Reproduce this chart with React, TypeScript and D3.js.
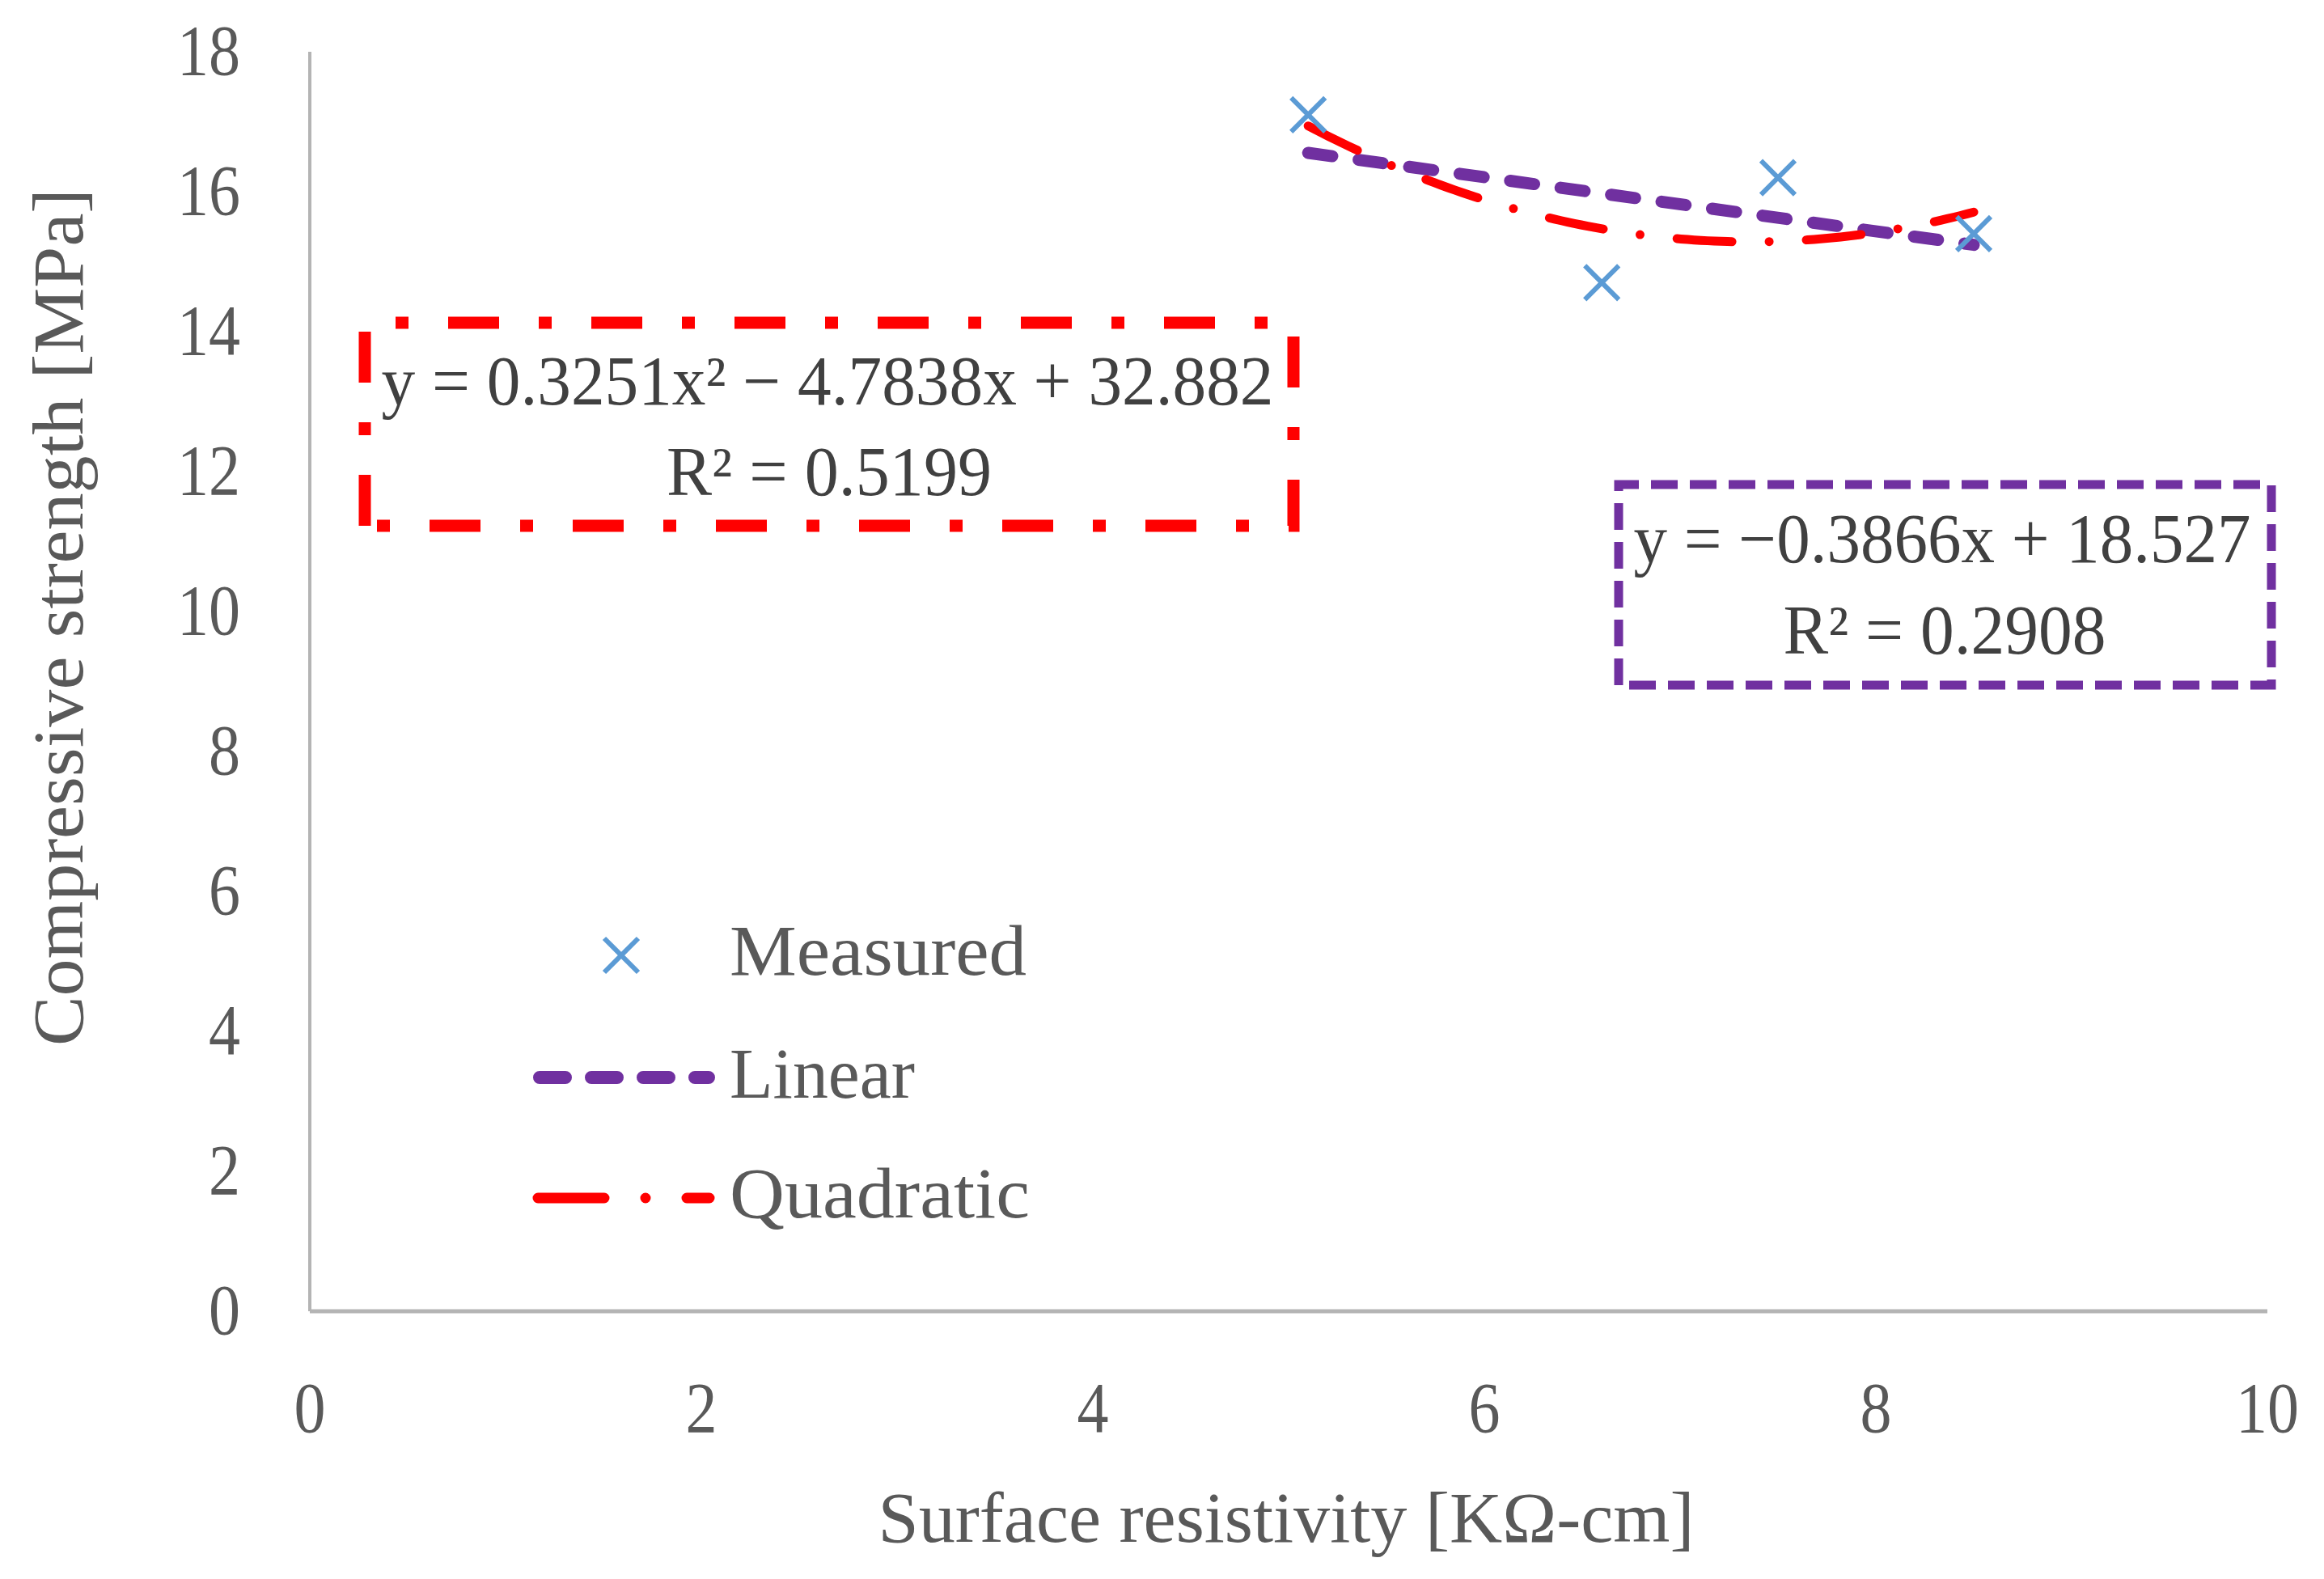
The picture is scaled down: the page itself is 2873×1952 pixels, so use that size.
import React from "react";
import * as d3 from "d3";

// ---- data ----
const resistivity = [5.1, 6.6, 7.5, 8.5];
const strength = [17.1, 14.7, 16.2, 15.4];
const xTicks = [0, 2, 4, 6, 8, 10];
const yTicks = [0, 2, 4, 6, 8, 10, 12, 14, 16, 18];
const linearCoef = [18.527, -0.3866]; // intercept, slope
const quadCoef = [32.882, -4.7838, 0.3251]; // c0, c1, c2
const linearLabel = ["y = −0.3866x + 18.527", "R² = 0.2908"];
const quadLabel = ["y = 0.3251x² − 4.7838x + 32.882", "R² = 0.5199"];
const legendLabels = ["Measured", "Linear", "Quadratic"];
const xTitle = "Surface resistivity [KΩ-cm]";
const yTitle = "Compressive strength [MPa]";

const W = 2873;
const H = 1952;
const FONT = "'Liberation Serif', 'DejaVu Serif', serif";
const TICK_COLOR = "#595959";
const EQ_COLOR = "#404040";
const BLUE = "#5B9BD5";
const PURPLE = "#7030A0";
const RED = "#FF0000";

export default function App() {
  const x = d3.scaleLinear().domain([0, 10]).range([383, 2803]);
  const y = d3.scaleLinear().domain([0, 18]).range([1621, 64]);

  const [xmin, xmax] = d3.extent(resistivity) as [number, number];
  const lin = (v: number) => linearCoef[0] + linearCoef[1] * v;
  const quad = (v: number) => quadCoef[0] + quadCoef[1] * v + quadCoef[2] * v * v;
  const samples = d3.range(0, 101).map((i) => xmin + ((xmax - xmin) * i) / 100);

  const lineGen = d3
    .line<[number, number]>()
    .x((d) => x(d[0]))
    .y((d) => y(d[1]));

  const linPath = lineGen([[xmin, lin(xmin)], [xmax, lin(xmax)]]) || "";
  const quadPath = lineGen(samples.map((v) => [v, quad(v)] as [number, number])) || "";

  const purpleDash = "30 33";
  const redDash = "68 46 0 46";

  // equation boxes (bottom-left start so dash phase matches)
  const redBox = { x0: 451, y0: 399, x1: 1599, y1: 650 };
  const purpleBox = { x0: 2001, y0: 599, x1: 2808, y1: 847 };
  const boxPath = (b: { x0: number; y0: number; x1: number; y1: number }) =>
    `M${b.x0},${b.y1}L${b.x0},${b.y0}L${b.x1},${b.y0}L${b.x1},${b.y1}Z`;

  const digitW = 39;

  return (
    <svg
      width={W}
      height={H}
      viewBox={`0 0 ${W} ${H}`}
      style={{ position: "absolute", left: 0, top: 0, background: "#fff" }}
      fontFamily={FONT}
    >
      <rect x={0} y={0} width={W} height={H} fill="#fff" />

      {/* axes */}
      <line x1={x(0)} x2={x(0)} y1={y(18)} y2={y(0)} stroke="#B4B4B4" strokeWidth={4} />
      <line x1={x(0)} x2={x(10)} y1={y(0)} y2={y(0)} stroke="#B4B4B4" strokeWidth={5} />

      {/* y tick labels */}
      {yTicks.map((t) => (
        <text
          key={`y${t}`}
          x={297}
          y={y(t) + 28}
          textAnchor="end"
          fontSize={88}
          fill={TICK_COLOR}
          textLength={String(t).length * digitW}
          lengthAdjust="spacingAndGlyphs"
        >
          {t}
        </text>
      ))}

      {/* x tick labels */}
      {xTicks.map((t) => (
        <text
          key={`x${t}`}
          x={x(t)}
          y={1770}
          textAnchor="middle"
          fontSize={88}
          fill={TICK_COLOR}
          textLength={String(t).length * digitW}
          lengthAdjust="spacingAndGlyphs"
        >
          {t}
        </text>
      ))}

      {/* axis titles */}
      <text
        x={1590}
        y={1906}
        textAnchor="middle"
        fontSize={88}
        fill={TICK_COLOR}
        textLength={1009}
        lengthAdjust="spacingAndGlyphs"
      >
        {xTitle}
      </text>
      <text
        transform={`translate(102,763) rotate(-90)`}
        textAnchor="middle"
        fontSize={88}
        fill={TICK_COLOR}
        textLength={1060}
        lengthAdjust="spacingAndGlyphs"
      >
        {yTitle}
      </text>

      {/* trend lines */}
      <path
        d={linPath}
        fill="none"
        stroke={PURPLE}
        strokeWidth={15}
        strokeLinecap="round"
        strokeDasharray={purpleDash}
      />
      <path
        d={quadPath}
        fill="none"
        stroke={RED}
        strokeWidth={11}
        strokeLinecap="round"
        strokeDasharray={redDash}
      />

      {/* measured points */}
      {resistivity.map((r, i) => (
        <path
          key={`m${i}`}
          transform={`translate(${x(r)},${y(strength[i])})`}
          d="M-21,-21L21,21M-21,21L21,-21"
          stroke={BLUE}
          strokeWidth={6}
          fill="none"
        />
      ))}

      {/* equation boxes */}
      <path
        d={boxPath(redBox)}
        fill="none"
        stroke={RED}
        strokeWidth={15}
        strokeDasharray="63 49 16 49"
      />
      <text
        x={1023}
        y={500}
        textAnchor="middle"
        fontSize={86}
        fill={EQ_COLOR}
        textLength={1103}
        lengthAdjust="spacingAndGlyphs"
      >
        {quadLabel[0]}
      </text>
      <text
        x={1025}
        y={612}
        textAnchor="middle"
        fontSize={86}
        fill={EQ_COLOR}
        textLength={402}
        lengthAdjust="spacingAndGlyphs"
      >
        {quadLabel[1]}
      </text>

      <path
        d={boxPath(purpleBox)}
        fill="none"
        stroke={PURPLE}
        strokeWidth={11}
        strokeDasharray="33 15"
      />
      <text
        x={2401}
        y={695}
        textAnchor="middle"
        fontSize={86}
        fill={EQ_COLOR}
        textLength={763}
        lengthAdjust="spacingAndGlyphs"
      >
        {linearLabel[0]}
      </text>
      <text
        x={2404}
        y={808}
        textAnchor="middle"
        fontSize={86}
        fill={EQ_COLOR}
        textLength={399}
        lengthAdjust="spacingAndGlyphs"
      >
        {linearLabel[1]}
      </text>

      {/* legend */}
      <g>
        <path
          transform="translate(768,1181)"
          d="M-21,-21L21,21M-21,21L21,-21"
          stroke={BLUE}
          strokeWidth={6}
          fill="none"
        />
        <text x={902} y={1205} fontSize={88} fill={TICK_COLOR} textLength={367} lengthAdjust="spacingAndGlyphs">
          {legendLabels[0]}
        </text>

        <line
          x1={667}
          x2={876}
          y1={1332}
          y2={1332}
          stroke={PURPLE}
          strokeWidth={16}
          strokeLinecap="round"
          strokeDasharray="32 32"
        />
        <text x={902} y={1357} fontSize={88} fill={TICK_COLOR} textLength={229} lengthAdjust="spacingAndGlyphs">
          {legendLabels[1]}
        </text>

        <line
          x1={665}
          x2={877}
          y1={1481}
          y2={1481}
          stroke={RED}
          strokeWidth={13}
          strokeLinecap="round"
          strokeDasharray="82 51 0 51"
        />
        <text x={902} y={1505} fontSize={88} fill={TICK_COLOR} textLength={371} lengthAdjust="spacingAndGlyphs">
          {legendLabels[2]}
        </text>
      </g>
    </svg>
  );
}
